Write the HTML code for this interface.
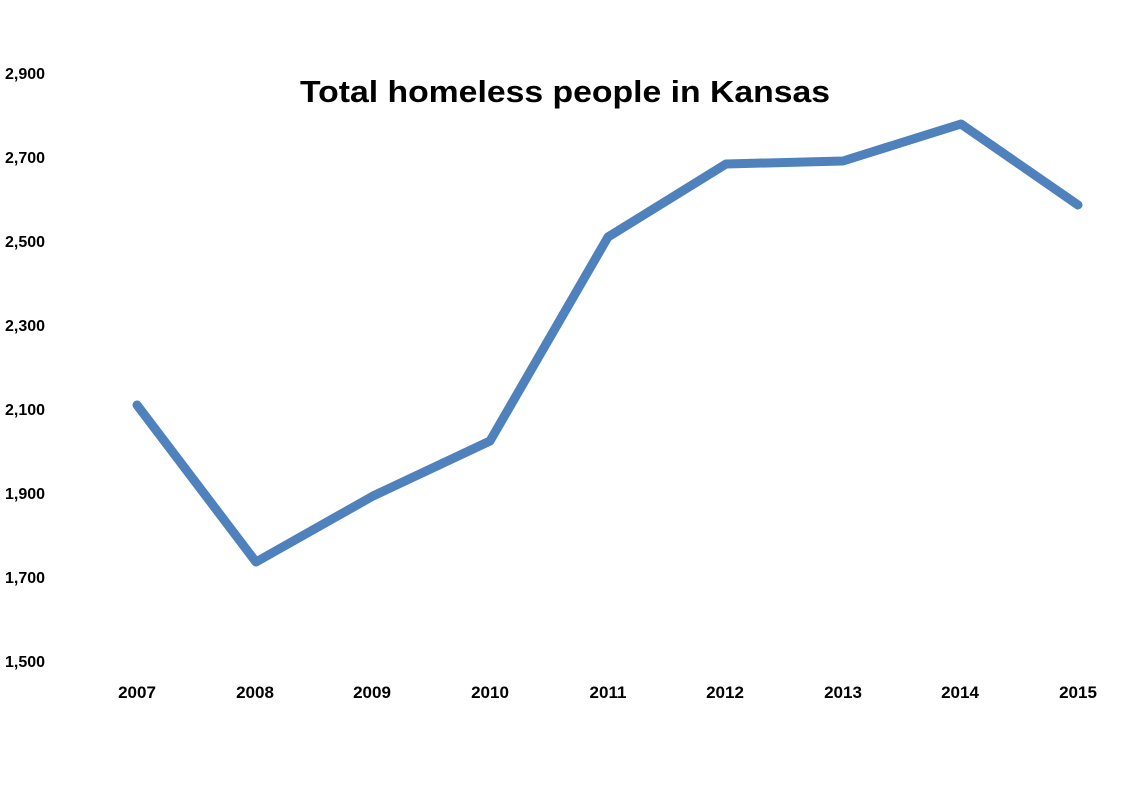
<!DOCTYPE html>
<html><head><meta charset="utf-8"><style>
body{margin:0;background:#fff;}
svg{display:block;}
text{font-family:"Liberation Sans",sans-serif;font-weight:bold;fill:#000;}
</style></head><body>
<svg width="1140" height="804" viewBox="0 0 1140 804">
<rect width="1140" height="804" fill="#fff"/>
<text x="565" y="102" font-size="31" text-anchor="middle" textLength="530" lengthAdjust="spacingAndGlyphs">Total homeless people in Kansas</text>
<g font-size="16">
<text x="5" y="79">2,900</text>
<text x="5" y="163">2,700</text>
<text x="5" y="247">2,500</text>
<text x="5" y="331">2,300</text>
<text x="5" y="415">2,100</text>
<text x="5" y="499">1,900</text>
<text x="5" y="583">1,700</text>
<text x="5" y="667">1,500</text>
</g>
<g font-size="17" text-anchor="middle">
<text x="137" y="698">2007</text>
<text x="255" y="698">2008</text>
<text x="372" y="698">2009</text>
<text x="490" y="698">2010</text>
<text x="608" y="698">2011</text>
<text x="725" y="698">2012</text>
<text x="843" y="698">2013</text>
<text x="960" y="698">2014</text>
<text x="1078" y="698">2015</text>
</g>
<polyline fill="none" stroke="#4f81bd" stroke-width="9" stroke-linejoin="round" stroke-linecap="round"
points="137,405 256,562 373,496 490,441 608,237 726,164 843,161 961,124 1078,205"/>
</svg>
</body></html>
